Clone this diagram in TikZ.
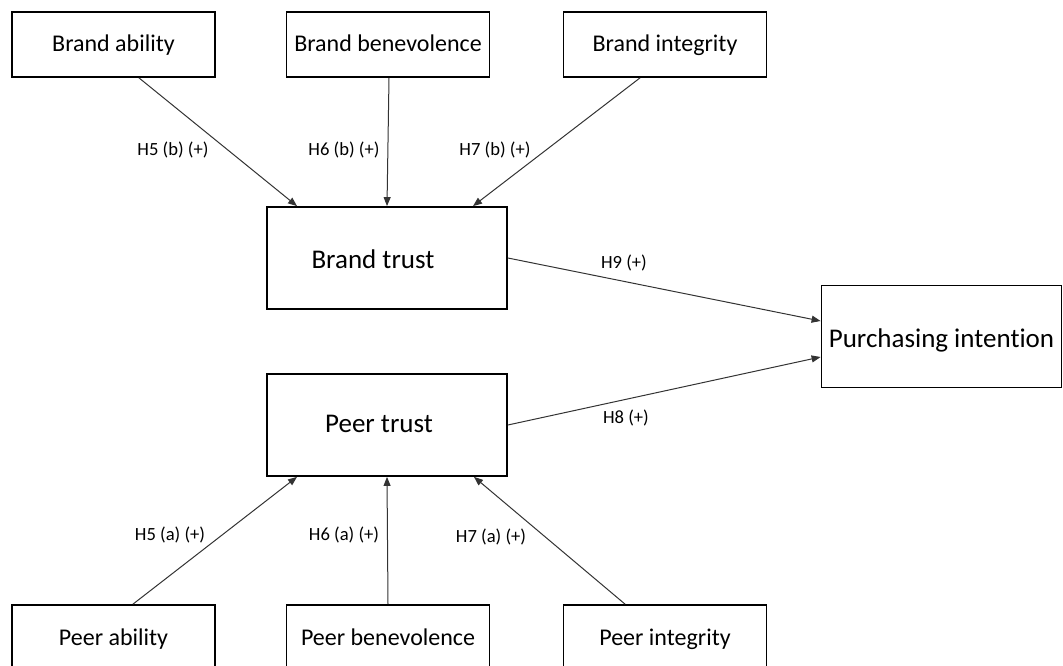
\documentclass[tikz,border=0pt]{standalone}
\usepackage{fontspec}
\setmainfont{Carlito}[Ligatures={NoCommon,NoContextual}]
\usetikzlibrary{arrows.meta}
\begin{document}
\begin{tikzpicture}[x=1pt,y=-1pt,
  smallbox/.style={draw, line width=1.8pt, minimum width=203pt, minimum height=65pt, inner sep=0pt, text height=20pt, text depth=5pt, font=\fontsize{24}{28}\selectfont},
  bigbox/.style={draw, line width=1.8pt, minimum width=240pt, minimum height=102pt, inner sep=0pt, text height=26pt, text depth=5pt, font=\fontsize{27}{32}\selectfont},
  bigtxt/.style={font=\fontsize{27}{32}\selectfont, inner sep=0pt, anchor=base},
  hyp/.style={font=\fontsize{18.6}{22}\selectfont, inner sep=0pt},
  link/.style={line width=1pt, draw=black!80, -{Triangle[length=9pt,width=7pt]}}]
\useasboundingbox (0,0) rectangle (1063,666);
\clip (0,0) rectangle (1063,666);

% top row
\node[smallbox] (ba) at (113.5,44.5) {Brand ability};
\node[smallbox] (bb) at (388,44.5) {Brand benevolence};
\node[smallbox] (bi) at (665,44.5) {Brand integrity};

% middle
\node[bigbox] (bt) at (387,258) {};
\node[bigtxt] (btt) at (373,268) {Brand trust};
\node[bigbox] (pt) at (387,425) {};
\node[bigtxt] (ptt) at (379,432) {Peer trust};
\node[bigbox] (pi) at (941.5,336.5) {Purchasing intention};

% bottom row
\node[smallbox] (pa) at (113.5,637.5) {Peer ability};
\node[smallbox] (pb) at (388,637.5) {Peer benevolence};
\node[smallbox] (pg) at (665,637.5) {Peer integrity};

% connectors
\draw[link] ([xshift=25.5pt]ba.south) -- ([xshift=-90pt]bt.north);
\draw[link] ([xshift=1pt]bb.south) -- (bt.north);
\draw[link] ([xshift=-25pt]bi.south) -- ([xshift=86pt]bt.north);
\draw[link] (bt.east) -- ([yshift=15.5pt]pi.west);
\draw[link] (pt.east) -- ([yshift=-20.5pt]pi.west);
\draw[link] ([xshift=19.5pt]pa.north) -- ([xshift=-90pt]pt.south);
\draw[link] (pb.north) -- (pt.south);
\draw[link] ([xshift=-40pt]pg.north) -- ([xshift=87pt]pt.south);

% hypothesis labels
\node[hyp] (h5b) at (173,150) {H5 (b) (+)};
\node[hyp] (h6b) at (344,150) {H6 (b) (+)};
\node[hyp] (h7b) at (495,150) {H7 (b) (+)};
\node[hyp] (h9) at (624,263) {H9 (+)};
\node[hyp] (h8) at (626,418) {H8 (+)};
\node[hyp] (h5a) at (170,535) {H5 (a) (+)};
\node[hyp] (h6a) at (344,535) {H6 (a) (+)};
\node[hyp] (h7a) at (491,537) {H7 (a) (+)};
\end{tikzpicture}
\end{document}
